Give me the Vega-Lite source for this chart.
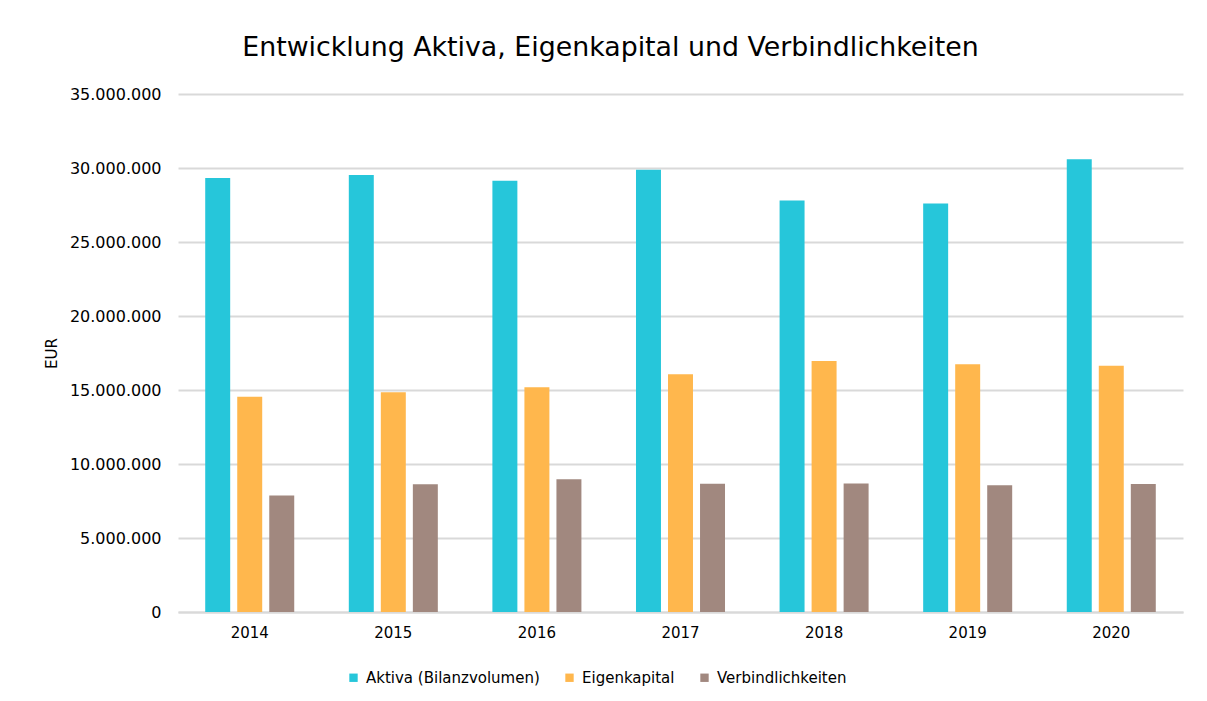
{
  "$schema": "https://vega.github.io/schema/vega-lite/v6.json",
  "autosize": {"type": "none"},
  "padding": {"left": 178, "top": 94, "right": 24, "bottom": 89},
  "width": 1005,
  "height": 518,
  "background": "white",
  "title": {
    "text": "Entwicklung Aktiva, Eigenkapital und Verbindlichkeiten",
    "font": "DejaVu Sans",
    "fontSize": 26.8,
    "fontWeight": "normal",
    "color": "#000000",
    "anchor": "middle",
    "frame": "group",
    "dx": -70,
    "offset": 24
  },
  "data": {
    "values": [
      {"Jahr": "2014", "Reihe": "Aktiva (Bilanzvolumen)", "Wert": 29320000},
      {"Jahr": "2014", "Reihe": "Eigenkapital", "Wert": 14550000},
      {"Jahr": "2014", "Reihe": "Verbindlichkeiten", "Wert": 7880000},
      {"Jahr": "2015", "Reihe": "Aktiva (Bilanzvolumen)", "Wert": 29530000},
      {"Jahr": "2015", "Reihe": "Eigenkapital", "Wert": 14840000},
      {"Jahr": "2015", "Reihe": "Verbindlichkeiten", "Wert": 8630000},
      {"Jahr": "2016", "Reihe": "Aktiva (Bilanzvolumen)", "Wert": 29140000},
      {"Jahr": "2016", "Reihe": "Eigenkapital", "Wert": 15180000},
      {"Jahr": "2016", "Reihe": "Verbindlichkeiten", "Wert": 8970000},
      {"Jahr": "2017", "Reihe": "Aktiva (Bilanzvolumen)", "Wert": 29880000},
      {"Jahr": "2017", "Reihe": "Eigenkapital", "Wert": 16060000},
      {"Jahr": "2017", "Reihe": "Verbindlichkeiten", "Wert": 8670000},
      {"Jahr": "2018", "Reihe": "Aktiva (Bilanzvolumen)", "Wert": 27810000},
      {"Jahr": "2018", "Reihe": "Eigenkapital", "Wert": 16960000},
      {"Jahr": "2018", "Reihe": "Verbindlichkeiten", "Wert": 8690000},
      {"Jahr": "2019", "Reihe": "Aktiva (Bilanzvolumen)", "Wert": 27600000},
      {"Jahr": "2019", "Reihe": "Eigenkapital", "Wert": 16740000},
      {"Jahr": "2019", "Reihe": "Verbindlichkeiten", "Wert": 8560000},
      {"Jahr": "2020", "Reihe": "Aktiva (Bilanzvolumen)", "Wert": 30590000},
      {"Jahr": "2020", "Reihe": "Eigenkapital", "Wert": 16640000},
      {"Jahr": "2020", "Reihe": "Verbindlichkeiten", "Wert": 8650000}
    ]
  },
  "mark": {"type": "bar"},
  "encoding": {
    "x": {
      "field": "Jahr",
      "type": "nominal",
      "scale": {"paddingInner": 0.331, "paddingOuter": 0.165},
      "axis": {
        "title": null,
        "labelAngle": 0,
        "labelFont": "DejaVu Sans",
        "labelFontSize": 15,
        "labelColor": "#000000",
        "labelPadding": 13,
        "ticks": false,
        "domainColor": "#d9d9d9",
        "domainWidth": 2,
        "grid": false
      }
    },
    "xOffset": {
      "field": "Reihe",
      "type": "nominal",
      "sort": ["Aktiva (Bilanzvolumen)", "Eigenkapital", "Verbindlichkeiten"],
      "scale": {"paddingInner": 0.22, "paddingOuter": 0.11}
    },
    "y": {
      "field": "Wert",
      "type": "quantitative",
      "scale": {"domain": [0, 35000000], "nice": false},
      "axis": {
        "title": "EUR",
        "titleFont": "DejaVu Sans",
        "titleFontSize": 15,
        "titleFontWeight": "normal",
        "titleColor": "#000000",
        "titlePadding": 10,
        "values": [0, 5000000, 10000000, 15000000, 20000000, 25000000, 30000000, 35000000],
        "format": ",.0f",
        "labelFont": "DejaVu Sans",
        "labelFontSize": 16,
        "labelColor": "#000000",
        "labelPadding": 17,
        "ticks": false,
        "domain": false,
        "gridColor": "#d9d9d9",
        "gridWidth": 2
      }
    },
    "color": {
      "field": "Reihe",
      "type": "nominal",
      "sort": ["Aktiva (Bilanzvolumen)", "Eigenkapital", "Verbindlichkeiten"],
      "scale": {
        "domain": ["Aktiva (Bilanzvolumen)", "Eigenkapital", "Verbindlichkeiten"],
        "range": ["#26C6DA", "#FFB74D", "#A1887F"]
      },
      "legend": {
        "title": null,
        "orient": "none",
        "legendX": 168,
        "legendY": 576,
        "direction": "horizontal",
        "symbolType": "square",
        "symbolSize": 70,
        "symbolStrokeWidth": 0,
        "labelFont": "DejaVu Sans",
        "labelFontSize": 15,
        "labelColor": "#000000",
        "labelLimit": 0,
        "labelOffset": 5,
        "columnPadding": 22
      }
    }
  },
  "config": {
    "view": {"stroke": null},
    "locale": {
      "number": {"decimal": ",", "thousands": ".", "grouping": [3], "currency": ["", " €"]}
    }
  }
}
